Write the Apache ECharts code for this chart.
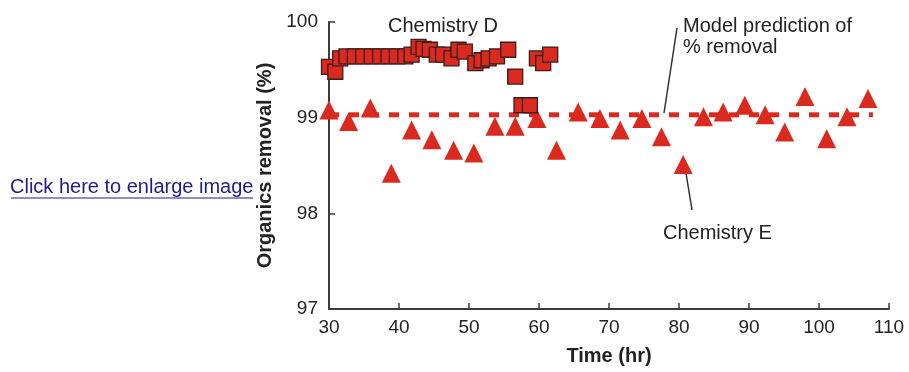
<!DOCTYPE html>
<html>
<head>
<meta charset="utf-8">
<script src="https://cdn.jsdelivr.net/npm/echarts@6/dist/echarts.min.js"></script>
<style>
html,body{margin:0;padding:0;background:#fff;}
#chart{width:909px;height:372px;}
</style>
</head>
<body>
<div id="chart"></div>
<script>
// Chemistry D (squares): time (hr), organics removal (%)
const chemDTime = [30.0, 30.9, 31.6, 32.5, 33.7, 34.9, 36.1, 37.3, 38.5, 39.7, 40.9, 41.8, 42.8, 43.5, 44.4, 45.4, 46.3, 47.5, 48.5, 49.4, 50.9, 51.8, 52.8, 54.0, 55.6, 56.6, 57.5, 58.7, 59.7, 60.6, 61.6];
const chemDRemoval = [99.53, 99.48, 99.62, 99.64, 99.64, 99.64, 99.64, 99.64, 99.64, 99.64, 99.64, 99.66, 99.74, 99.72, 99.71, 99.66, 99.66, 99.62, 99.71, 99.69, 99.57, 99.60, 99.62, 99.64, 99.71, 99.43, 99.13, 99.13, 99.62, 99.57, 99.66];
// Chemistry E (triangles)
const chemETime = [30.0, 32.8, 35.9, 38.9, 41.8, 44.7, 47.8, 50.7, 53.7, 56.6, 59.7, 62.5, 65.6, 68.7, 71.6, 74.7, 77.5, 80.6, 83.5, 86.3, 89.4, 92.3, 95.1, 98.0, 101.1, 104.0, 107.0];
const chemERemoval = [99.08, 98.96, 99.10, 98.42, 98.87, 98.77, 98.66, 98.63, 98.91, 98.91, 98.99, 98.66, 99.06, 98.99, 98.87, 98.99, 98.80, 98.51, 99.01, 99.06, 99.13, 99.03, 98.85, 99.22, 98.78, 99.01, 99.20];
// Model prediction of % removal
const modelTime = [30, 107.7];
const modelRemoval = 99.03;
// Axis ticks
const xTicks = [30, 40, 50, 60, 70, 80, 90, 100, 110];
const yTicks = [97, 98, 99, 100];

const RED = '#da2a1f';
const AXIS = '#3c3c3c';
const FONT = "'Liberation Sans', Arial, Helvetica, sans-serif";

const chart = echarts.init(document.getElementById('chart'), null, {renderer: 'canvas'});
chart.setOption({
  animation: false,
  backgroundColor: '#ffffff',
  grid: {left: 329, right: 20, top: 22, bottom: 63, containLabel: false},
  xAxis: {
    type: 'value',
    min: xTicks[0], max: xTicks[xTicks.length - 1], interval: 10,
    name: 'Time (hr)', nameLocation: 'middle', nameGap: 37,
    nameTextStyle: {fontFamily: FONT, fontSize: 20, fontWeight: 'bold', color: '#222'},
    axisLine: {lineStyle: {color: AXIS, width: 2}},
    axisTick: {inside: true, length: 6, lineStyle: {color: AXIS, width: 1.5}},
    axisLabel: {margin: 9, fontFamily: FONT, fontSize: 19, color: '#222'},
    splitLine: {show: false}
  },
  yAxis: {
    type: 'value',
    min: yTicks[0], max: yTicks[yTicks.length - 1], interval: 1,
    name: 'Organics removal (%)', nameLocation: 'middle', nameGap: 50, nameRotate: 90,
    nameTextStyle: {fontFamily: FONT, fontSize: 20, fontWeight: 'bold', color: '#222'},
    axisLine: {show: true, lineStyle: {color: AXIS, width: 2}},
    axisTick: {show: true, inside: true, length: 6, lineStyle: {color: AXIS, width: 1.5}},
    axisLabel: {margin: 11, fontFamily: FONT, fontSize: 19, color: '#222'},
    splitLine: {show: false}
  },
  series: [
    {
      name: 'Model prediction of % removal',
      type: 'line',
      data: modelTime.map(t => [t, modelRemoval]),
      symbol: 'none',
      lineStyle: {color: RED, width: 5, type: [10, 10]},
      z: 1
    },
    {
      name: 'Chemistry E',
      type: 'scatter',
      clip: false,
      data: chemETime.map((t, i) => [t, chemERemoval[i]]),
      symbol: 'triangle',
      symbolSize: [19, 19],
      itemStyle: {color: RED, opacity: 1},
      z: 2
    },
    {
      name: 'Chemistry D',
      type: 'scatter',
      clip: false,
      data: chemDTime.map((t, i) => [t, chemDRemoval[i]]),
      symbol: 'rect',
      symbolSize: 15,
      itemStyle: {color: RED, borderColor: '#3a1c1a', borderWidth: 1.3, opacity: 1},
      z: 3
    }
  ],
  graphic: [
    {type: 'text', left: 10, top: 177, style: {text: 'Click here to enlarge image', font: "20px 'Liberation Sans', Arial, sans-serif", fill: '#1c1c8f'}},
    {type: 'line', shape: {x1: 11, y1: 198, x2: 253, y2: 198}, style: {stroke: '#1c1c8f', lineWidth: 1}},
    {type: 'text', left: 388, top: 16, style: {text: 'Chemistry D', font: "20px 'Liberation Sans', Arial, sans-serif", fill: '#222'}},
    {type: 'text', left: 683, top: 16, style: {text: 'Model prediction of\n% removal', font: "20px 'Liberation Sans', Arial, sans-serif", fill: '#222', lineHeight: 21}},
    {type: 'line', shape: {x1: 677, y1: 28, x2: 664, y2: 113}, style: {stroke: '#333', lineWidth: 1.5}},
    {type: 'text', left: 663, top: 223, style: {text: 'Chemistry E', font: "20px 'Liberation Sans', Arial, sans-serif", fill: '#222'}},
    {type: 'line', shape: {x1: 685, y1: 167, x2: 692, y2: 210}, style: {stroke: '#333', lineWidth: 1.5}}
  ]
});
</script>
</body>
</html>
